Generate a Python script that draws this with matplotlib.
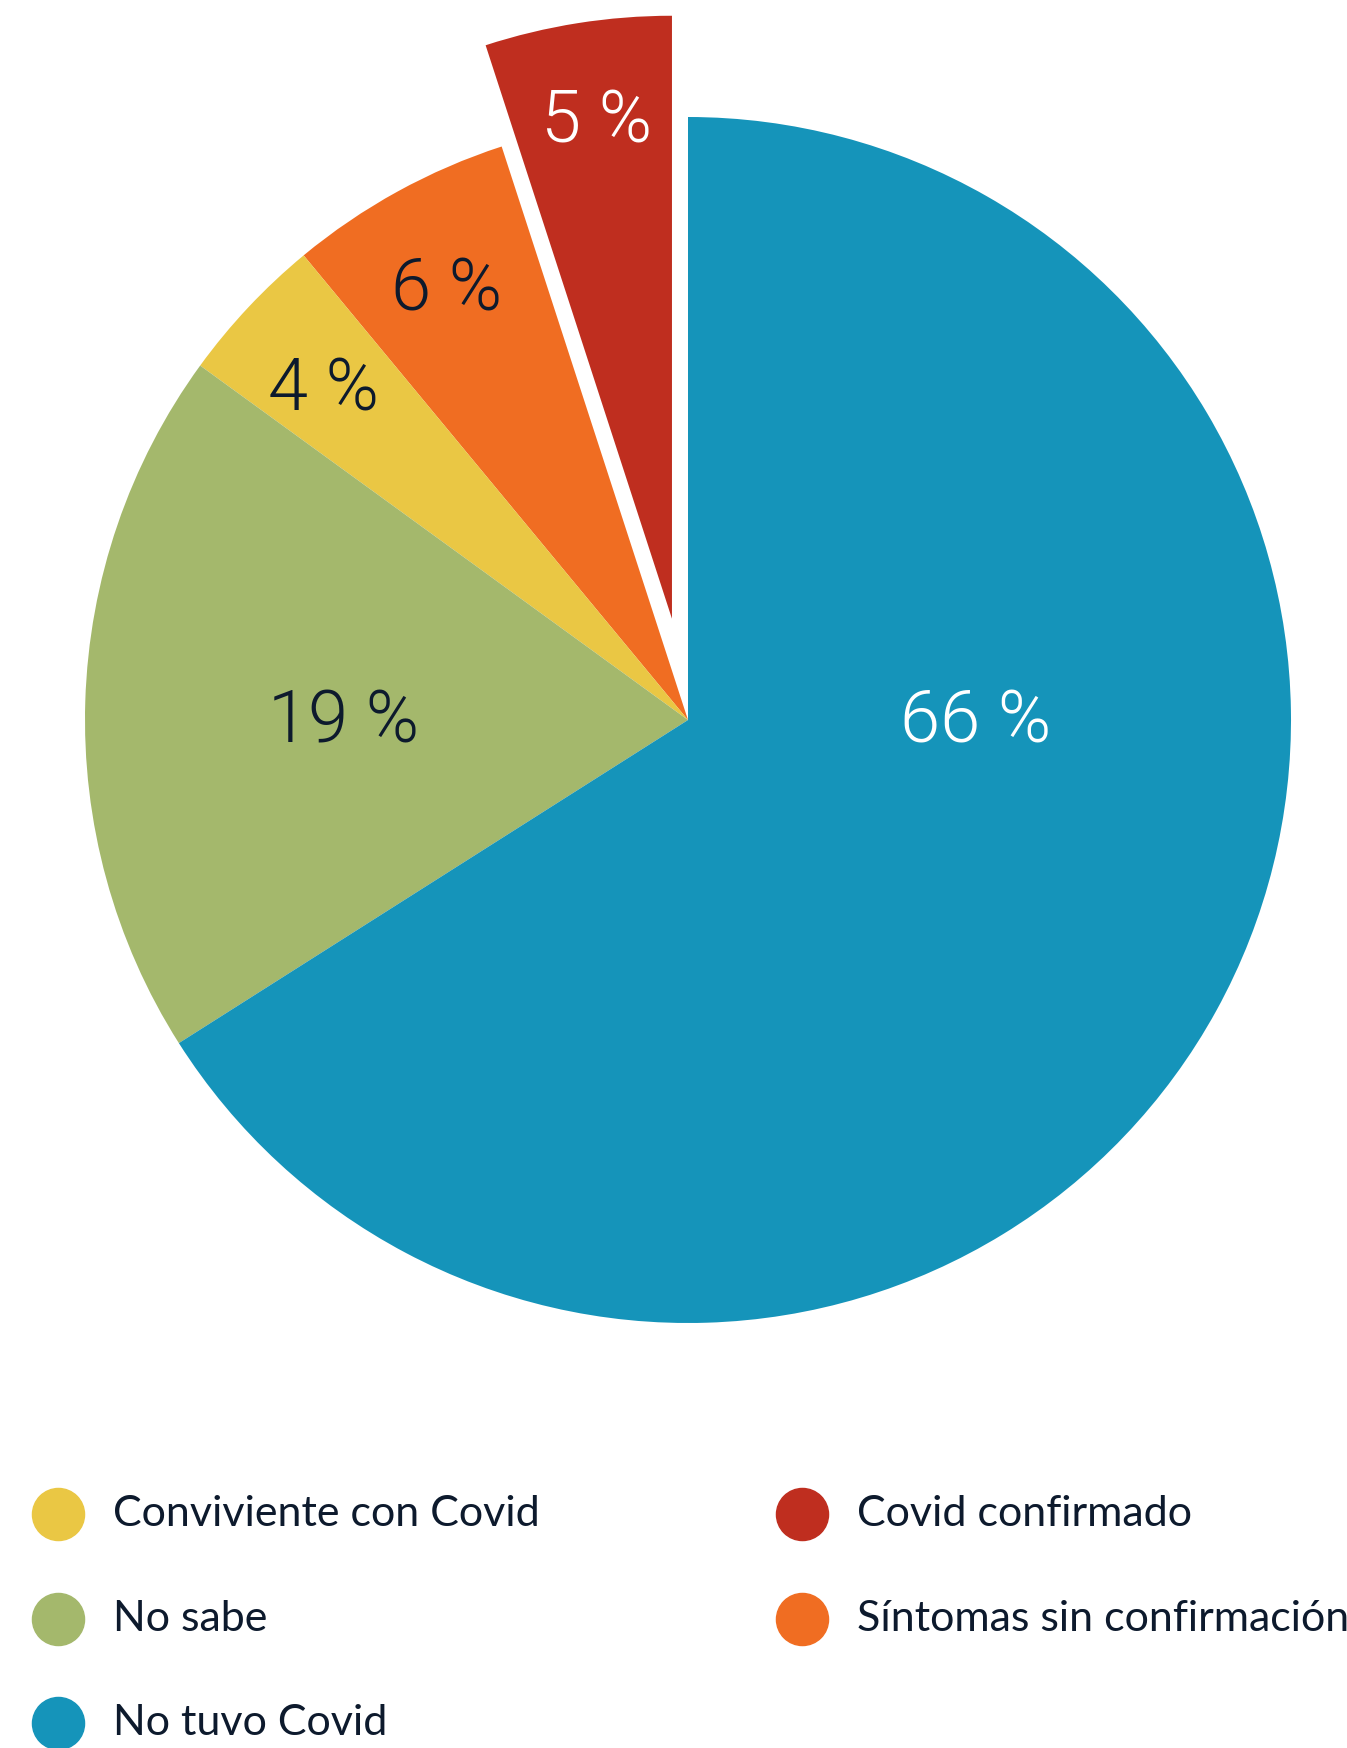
import matplotlib
matplotlib.use("Agg")
import matplotlib.pyplot as plt

# Data (order counter-clockwise from the top)
categories = ["Covid confirmado", "Síntomas sin confirmación", "Conviviente con Covid",
              "No sabe", "No tuvo Covid"]
values = [5, 6, 4, 19, 66]
pct_labels = ["5 %", "6 %", "4 %", "19 %", "66 %"]
colors = ["#BF2E1F", "#F06D22", "#EAC744", "#A4B86C", "#1594BA"]
label_colors = ["white", "#0D1A2D", "#0D1A2D", "#0D1A2D", "white"]
explode = [0.17, 0, 0, 0, 0]
# label positions in units of the radius (relative to pie centre)
label_pos = [(-0.151, 0.99), (-0.401, 0.712), (-0.604, 0.546), (-0.572, -0.005), (0.477, -0.005)]

legend_left = ["Conviviente con Covid", "No sabe", "No tuvo Covid"]
legend_right = ["Covid confirmado", "Síntomas sin confirmación"]

W, H = 1347, 1748
CX, CY, R = 688, 720, 603
TEXT = "#0D1A2D"
FONT = ["Lato", "DejaVu Sans"]
PFONT = ["Roboto", "Lato", "DejaVu Sans"]

fig = plt.figure(figsize=(W / 100, H / 100), dpi=100)
ax = fig.add_axes([0, 0, 1, 1])
ax.pie(values, colors=colors, startangle=90, counterclock=True, explode=explode,
       radius=1, center=(0, 0), wedgeprops=dict(linewidth=0))
ax.set_xlim(-CX / R, (W - CX) / R)
ax.set_ylim(-(H - CY) / R, CY / R)
ax.set_aspect("equal", adjustable="box")
ax.axis("off")

for (x, y), txt, c in zip(label_pos, pct_labels, label_colors):
    ax.text(x, y, txt, ha="center", va="center", fontsize=52, color=c,
            family=PFONT, fontweight=300)

color_of = dict(zip(categories, colors))
rows_y = [1514, 1619, 1723]
for col_x, txt_x, items in [(58, 113, legend_left), (802, 857, legend_right)]:
    for yy, name in zip(rows_y, items):
        fy = 1 - yy / H
        fig.add_artist(plt.Line2D([col_x / W], [fy], marker="o", markersize=37.5,
                                  color=color_of[name], linestyle="none",
                                  transform=fig.transFigure))
        fig.text(txt_x / W, fy, name, ha="left", va="center", fontsize=31,
                 color=TEXT, family=FONT)

fig.savefig("out.png", dpi=100)
